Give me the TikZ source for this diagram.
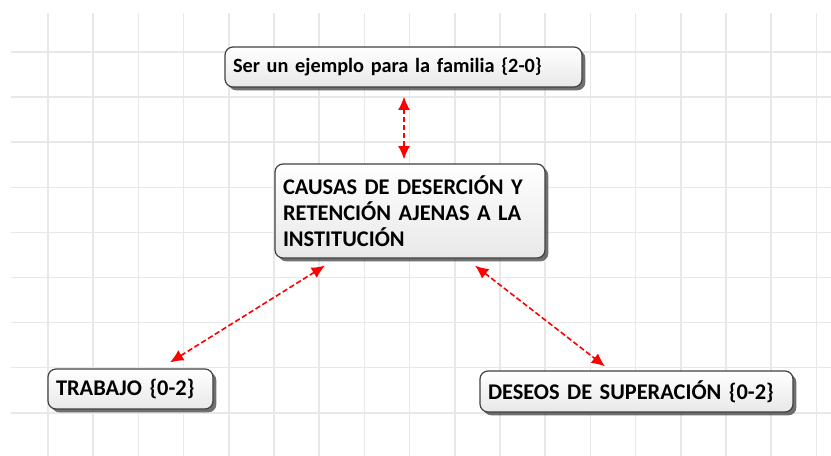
\documentclass[tikz,border=0pt]{standalone}
\usepackage{fontspec}
\setmainfont{Carlito}
\usetikzlibrary{arrows.meta,shadows,calc}

\tikzset{
  concepto/.style={rectangle,rounded corners=6pt,draw=black!75,line width=0.9pt,
    top color=white,bottom color=black!9,
    drop shadow={shadow xshift=2.5pt,shadow yshift=-2.5pt,fill=black!75,opacity=0.75},
    font=\bfseries\fontsize{16.8}{19.5}\selectfont,align=left,inner xsep=6pt,inner ysep=2pt},
  enlace/.style={red,line width=1.2pt,dash pattern=on 4pt off 2pt,
    {Latex[length=10pt,width=9pt]}-{Latex[length=10pt,width=9pt]}},
  rejilla/.style={black!9,line width=1.1pt}
}

\begin{document}
\begin{tikzpicture}[x=0.75pt,y=-0.75pt]
  \useasboundingbox (0,0) rectangle (831,456);
  % grid
  \foreach \i in {0,...,17}
    \draw[rejilla] (48+45.2*\i,13) -- (48+45.2*\i,456);
  \foreach \j in {0,...,8}
    \draw[rejilla] (11,52+45.1*\j) -- (831,52+45.1*\j);

  % concepts
  \node[concepto,text width=255.75pt,minimum height=30pt,
    font=\bfseries\fontsize{15.2}{18}\selectfont] (arriba) at (403.5,67)
    {Ser un ejemplo para la familia \{2-0\}};
  \node[concepto,text width=190.5pt,minimum height=70.5pt] (causas) at (410,211)
    {CAUSAS DE DESERCIÓN Y RETENCIÓN AJENAS A LA INSTITUCIÓN};
  \node[concepto,text width=111.75pt,minimum height=30pt] (trabajo) at (130.5,389)
    {TRABAJO \{0-2\}};
  \node[concepto,text width=222.75pt,minimum height=30.75pt] (deseos) at (636.5,391.5)
    {DESEOS DE SUPERACIÓN \{0-2\}};

  % links
  \draw[enlace] ($(arriba.south)+(0.5,9)$) -- ($(arriba.south |- causas.north)+(0.5,-4)$);
  \draw[enlace] ($(causas.south)+(-85,7)$) -- ($(trabajo.north)+(39.5,-6)$);
  \draw[enlace] ($(causas.south)+(65,7)$) -- ($(deseos.north)+(-31.5,-4)$);
\end{tikzpicture}
\end{document}
